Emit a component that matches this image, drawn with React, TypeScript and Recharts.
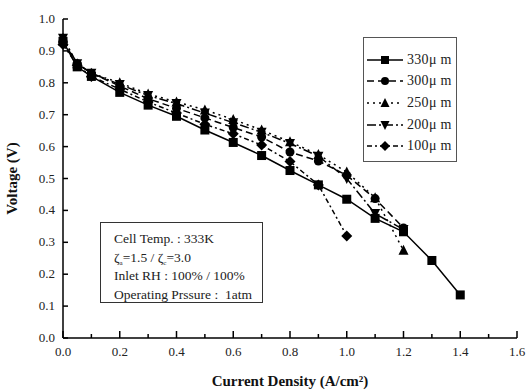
import { Line, LineChart, XAxis, YAxis } from "recharts";

const currentDensity = [0, 0.05, 0.1, 0.2, 0.3, 0.4, 0.5, 0.6, 0.7, 0.8, 0.9, 1.0, 1.1, 1.2, 1.3, 1.4];

const volt330 = [0.93, 0.85, 0.82, 0.77, 0.73, 0.695, 0.652, 0.613, 0.572, 0.525, 0.48, 0.435, 0.375, 0.333, 0.243, 0.135];
const volt300 = [0.93, 0.86, 0.83, 0.79, 0.75, 0.72, 0.69, 0.66, 0.63, 0.583, 0.555, 0.51, 0.437, 0.345];
const volt250 = [0.94, 0.86, 0.83, 0.8, 0.765, 0.74, 0.715, 0.685, 0.652, 0.615, 0.575, 0.52, 0.44, 0.275];
const volt200 = [0.94, 0.86, 0.83, 0.795, 0.76, 0.735, 0.705, 0.675, 0.645, 0.61, 0.57, 0.5, 0.39, 0.34];
const volt100 = [0.92, 0.855, 0.82, 0.78, 0.74, 0.705, 0.67, 0.64, 0.605, 0.553, 0.48, 0.32];

const seriesNames = ["330μ m", "300μ m", "250μ m", "200μ m", "100μ m"];
const seriesValues = [volt330, volt300, volt250, volt200, volt100];
const markers = ["square", "circle", "triangle", "down", "diamond"];
const dashes = ["", "7 4", "2 4", "9 3 2 3", "5 3 2 3"];

const xTicks = [0, 0.1, 0.2, 0.3, 0.4, 0.5, 0.6, 0.7, 0.8, 0.9, 1.0, 1.1, 1.2, 1.3, 1.4, 1.5, 1.6];
const yTicks = [0, 0.1, 0.2, 0.3, 0.4, 0.5, 0.6, 0.7, 0.8, 0.9, 1.0];

const rows = currentDensity.map((x, i) => {
  const row: Record<string, number | undefined> = { x };
  seriesValues.forEach((vals, s) => {
    row[`s${s}`] = vals[i];
  });
  return row;
});

const serif = "Liberation Serif, Times New Roman, DejaVu Serif, Noto Serif, serif";

function Marker({ kind, cx, cy, size = 4.5 }: { kind: string; cx?: number; cy?: number; size?: number }) {
  if (cx == null || cy == null || Number.isNaN(cy)) return null;
  const r = size;
  switch (kind) {
    case "square":
      return <rect x={cx - r} y={cy - r} width={r * 2} height={r * 2} fill="#000" />;
    case "circle":
      return <circle cx={cx} cy={cy} r={r} fill="#000" />;
    case "triangle":
      return <polygon points={`${cx},${cy - r - 1} ${cx - r - 0.5},${cy + r} ${cx + r + 0.5},${cy + r}`} fill="#000" />;
    case "down":
      return <polygon points={`${cx},${cy + r + 1} ${cx - r - 0.5},${cy - r} ${cx + r + 0.5},${cy - r}`} fill="#000" />;
    default:
      return <polygon points={`${cx},${cy - r - 1} ${cx + r + 1},${cy} ${cx},${cy + r + 1} ${cx - r - 1},${cy}`} fill="#000" />;
  }
}

const isMajorX = (v: number) => Math.round(v * 10) % 2 === 0;

function BottomTick({ x, y, payload }: any) {
  const major = isMajorX(payload.value);
  return (
    <g>
      <line x1={x} x2={x} y1={y} y2={y - (major ? 7 : 4)} stroke="#000" strokeWidth={1.5} />
      {major && (
        <text x={x} y={y + 18} textAnchor="middle" fontSize={13} fontFamily={serif} fill="#222">
          {payload.value.toFixed(1)}
        </text>
      )}
    </g>
  );
}

function TopTick({ x, y, payload }: any) {
  const major = isMajorX(payload.value);
  return <line x1={x} x2={x} y1={y} y2={y + (major ? 7 : 4)} stroke="#000" strokeWidth={1.5} />;
}

function LeftTick({ x, y, payload }: any) {
  return (
    <g>
      <line x1={x} x2={x + 5} y1={y} y2={y} stroke="#000" strokeWidth={1.5} />
      <text x={x - 8} y={y + 4} textAnchor="end" fontSize={13} fontFamily={serif} fill="#222">
        {payload.value.toFixed(1)}
      </text>
    </g>
  );
}

function RightTick({ x, y }: any) {
  return <line x1={x} x2={x - 5} y1={y} y2={y} stroke="#000" strokeWidth={1.5} />;
}

const subStyle = { fontSize: 7, verticalAlign: "-3px", lineHeight: 0 } as const;

export default function App() {
  return (
    <div style={{ position: "absolute", left: 0, top: 0, width: 526, height: 392, background: "#fff" }}>
      <LineChart width={526} height={392} data={rows} margin={{ top: 19, right: 9, bottom: 0, left: 0 }}>
        <XAxis
          xAxisId="b"
          dataKey="x"
          type="number"
          domain={[0, 1.6]}
          ticks={xTicks}
          interval={0}
          height={54}
          tickSize={0}
          tickMargin={0}
          tickLine={false}
          tick={<BottomTick />}
          axisLine={{ stroke: "#000", strokeWidth: 1.5 }}
          label={{
            value: "Current Density (A/cm²)",
            position: "insideBottom",
            offset: 6,
            style: { fontFamily: serif, fontSize: 15, fontWeight: "bold", fill: "#111" },
          }}
        />
        <XAxis
          xAxisId="t"
          orientation="top"
          dataKey="x"
          type="number"
          domain={[0, 1.6]}
          ticks={xTicks}
          interval={0}
          height={0}
          tickSize={0}
          tickMargin={0}
          tickLine={false}
          tick={<TopTick />}
          axisLine={{ stroke: "#000", strokeWidth: 1.5 }}
        />
        <YAxis
          yAxisId="l"
          type="number"
          domain={[0, 1]}
          ticks={yTicks}
          interval={0}
          width={63}
          tickSize={0}
          tickMargin={0}
          tickLine={false}
          tick={<LeftTick />}
          axisLine={{ stroke: "#000", strokeWidth: 1.5 }}
          label={{
            value: "Voltage (V)",
            angle: -90,
            position: "insideLeft",
            offset: 12,
            style: { fontFamily: serif, fontSize: 15, fontWeight: "bold", fill: "#111", textAnchor: "middle" },
          }}
        />
        <YAxis
          yAxisId="r"
          orientation="right"
          type="number"
          domain={[0, 1]}
          ticks={yTicks}
          interval={0}
          width={0}
          tickSize={0}
          tickMargin={0}
          tickLine={false}
          tick={<RightTick />}
          axisLine={{ stroke: "#000", strokeWidth: 1.5 }}
        />
        {seriesNames.map((name, s) => (
          <Line
            key={name}
            xAxisId="b"
            yAxisId="l"
            dataKey={`s${s}`}
            name={name}
            stroke="#000"
            strokeWidth={1.5}
            strokeDasharray={dashes[s] || undefined}
            isAnimationActive={false}
            dot={(p: any) => (
              <g key={`${name}-${p.index}`}>
                <Marker kind={markers[s]} cx={p.cx} cy={p.cy} />
              </g>
            )}
            activeDot={false}
          />
        ))}
      </LineChart>

      <div
        style={{
          position: "absolute",
          left: 363,
          top: 37,
          width: 94,
          height: 125,
          border: "1px solid #555",
          boxSizing: "border-box",
          paddingTop: 11,
        }}
      >
        {seriesNames.map((name, s) => (
          <div key={name} style={{ display: "flex", alignItems: "center", height: 21.6, whiteSpace: "nowrap" }}>
            <svg width={38} height={14} style={{ marginLeft: 2, flexShrink: 0 }}>
              <line x1={1} x2={37} y1={7} y2={7} stroke="#000" strokeWidth={1.5} strokeDasharray={dashes[s] || undefined} />
              <Marker kind={markers[s]} cx={19} cy={7} size={4} />
            </svg>
            <span style={{ fontFamily: serif, fontSize: 14, letterSpacing: 0.3, marginLeft: 3, color: "#222" }}>{name}</span>
          </div>
        ))}
      </div>

      <div
        style={{
          position: "absolute",
          left: 100,
          top: 222,
          width: 163,
          height: 81,
          border: "1px solid #333",
          boxSizing: "border-box",
          padding: "7px 0 0 13px",
          fontFamily: serif,
          fontSize: 13.5,
          lineHeight: "18.5px",
          color: "#222",
          whiteSpace: "nowrap",
        }}
      >
        <div style={{ height: 18.5 }}>Cell Temp. : 333K</div>
        <div style={{ height: 18.5 }}>
          ζ<span style={subStyle}>a</span>=1.5 / ζ<span style={subStyle}>c</span>=3.0
        </div>
        <div style={{ height: 18.5 }}>Inlet RH : 100% / 100%</div>
        <div style={{ height: 18.5 }}>Operating Prssure :&nbsp; 1atm</div>
      </div>
    </div>
  );
}
